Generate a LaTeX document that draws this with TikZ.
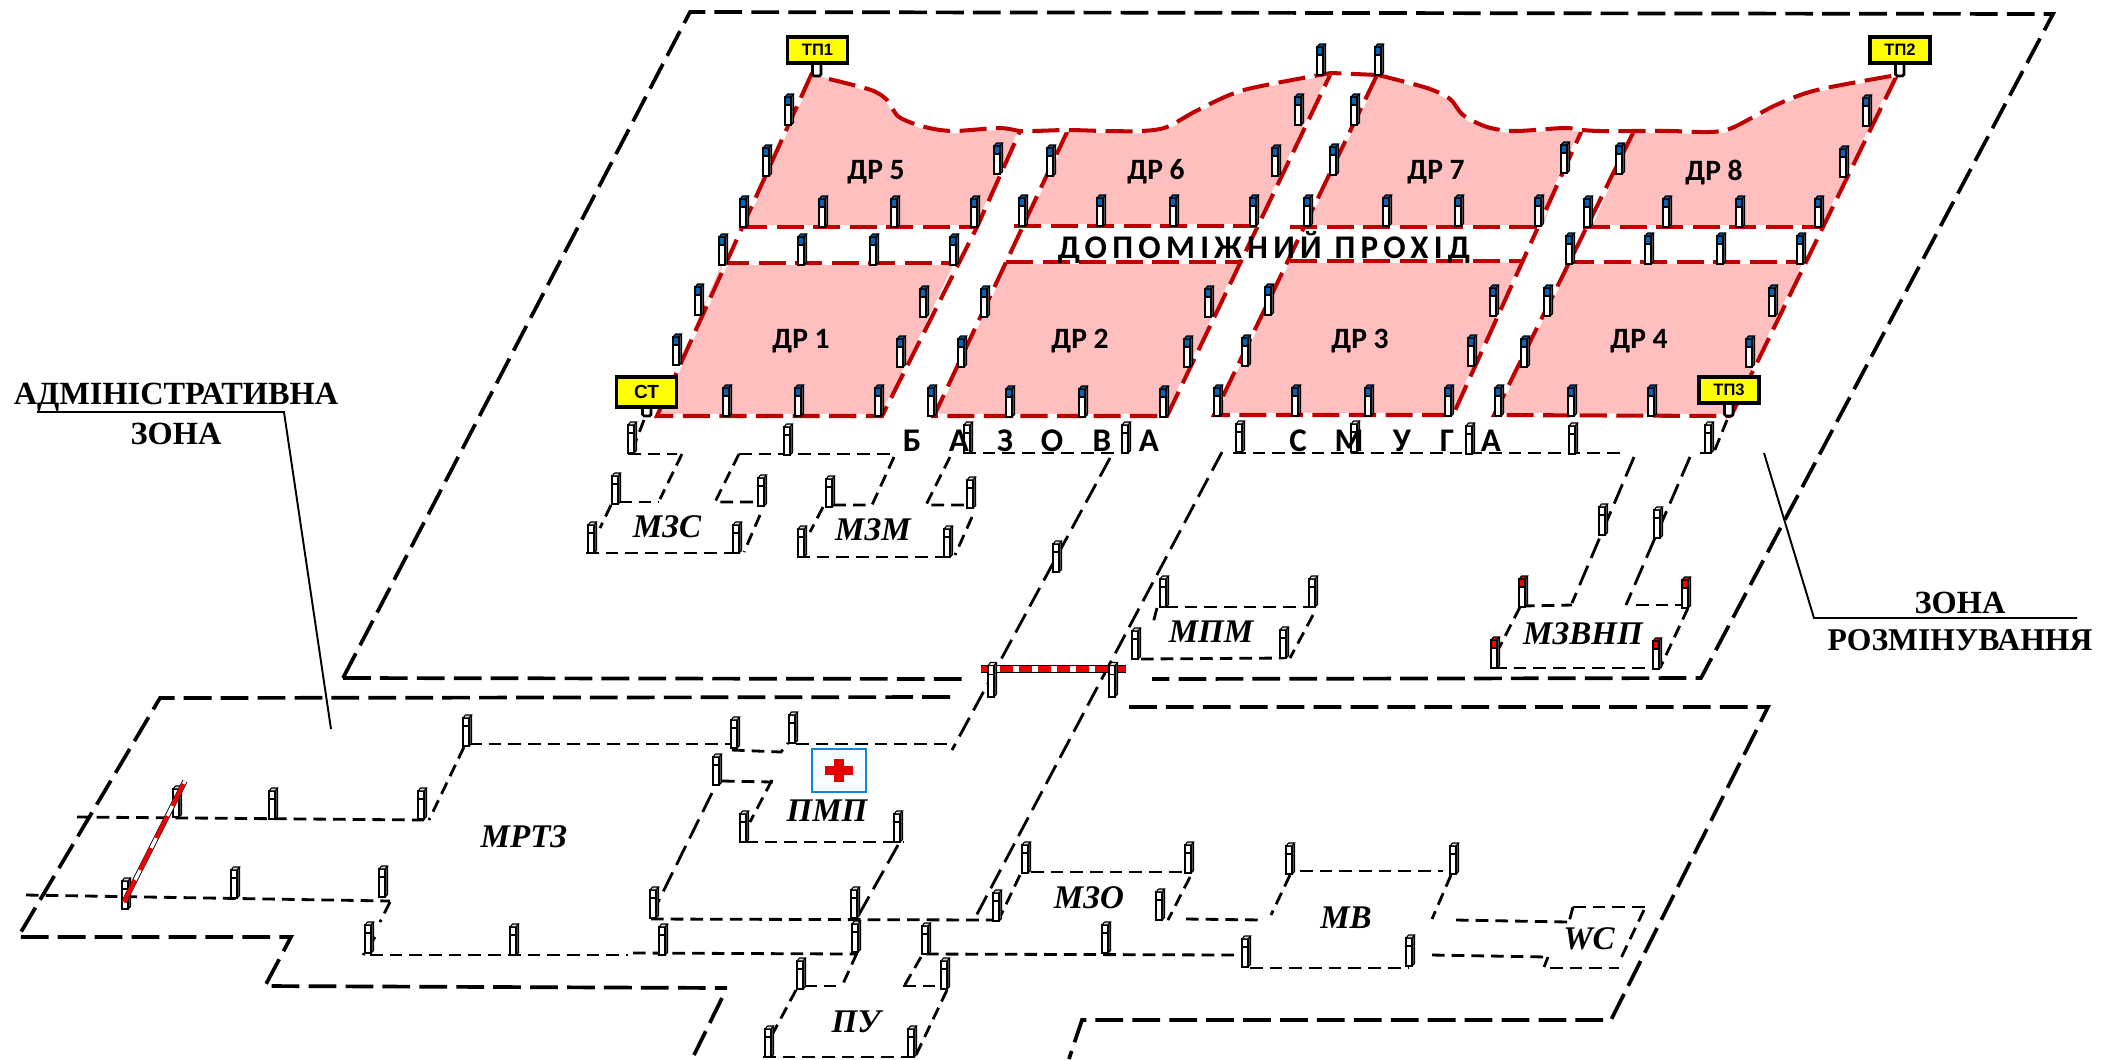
\documentclass[tikz,border=0pt]{standalone}
\usepackage{fontspec}
\usepackage{tikz}
\setmainfont{Liberation Serif}
\newfontfamily\kalibri{Carlito}
\newfontfamily\arial{Liberation Sans}
\definecolor{rozhevyi}{HTML}{FFBFBF}
\definecolor{chervonyi}{HTML}{C00000}
\definecolor{sinii}{HTML}{0066BB}
\definecolor{shlagred}{HTML}{EE0000}
\definecolor{zhovtyi}{HTML}{FFFF00}

\begin{document}
\begin{tikzpicture}[
    x=0.01cm, y=-0.01cm,
    outer/.style={line width=1.05pt, dash pattern=on 7.9pt off 2.6pt},
    redline/.style={draw=chervonyi, line width=1.15pt, dash pattern=on 7.7pt off 2.7pt,
                    preaction={draw=white, line width=1.15pt, solid}},
    thinline/.style={line width=0.8pt, dash pattern=on 3.6pt off 2pt},
    road/.style={line width=0.8pt, dash pattern=on 6pt off 2.4pt},
    leader/.style={line width=0.55pt},
    drfill/.style={fill=rozhevyi},
    drlabel/.style={font=\kalibri\fontsize{8.4}{10}\selectfont\bfseries},
    letter/.style={font=\kalibri\fontsize{9.4}{11}\selectfont\bfseries, inner sep=0pt},
    zonelabel/.style={font=\fontsize{9.2}{11}\selectfont\bfseries, inner sep=0pt},
    mlabel/.style={font=\fontsize{9.4}{11}\selectfont\bfseries\itshape, inner sep=0pt},
    tptag/.style={draw, line width=1pt, fill=zhovtyi, inner sep=0pt,
                  minimum width=17pt, minimum height=7.4pt,
                  font=\arial\fontsize{4.7}{5}\selectfont\bfseries},
    tpost/.style={draw, line width=0.8pt, fill=white, rounded corners=0.5pt},
    pics/post/.style={code={
        \fill[gray!70!black] (3,0) -- (5.5,-2.5) -- (5.5,-31) -- (3,-28) -- cycle;
        \filldraw[line width=0.3pt, fill=white] (-3,0) rectangle (3,-28);
        \filldraw[line width=0.3pt, fill=#1] (-3,-20) rectangle (3,-28);
        \filldraw[line width=0.3pt, fill=#1!85!black] (-3,-28) -- (-0.5,-31) -- (5.5,-31) -- (3,-28) -- cycle;
        \draw[line width=0.3pt] (3,0) -- (5.5,-2.5) -- (5.5,-31);
    }},
]
\useasboundingbox (0,0) rectangle (2111,1059);

% --- demining sectors ---
\fill[drfill] (722,263) -- (954,263) -- (882,416) -- (657,416) -- cycle;
\fill[drfill] (1006,262) -- (1240,262) -- (1167,416) -- (934,416) -- cycle;
\fill[drfill] (1290,261) -- (1524,261) -- (1453,415) -- (1214,415) -- cycle;
\fill[drfill] (1567,262) -- (1803,262) -- (1731,416) -- (1494,415) -- cycle;
\fill[drfill] (740,227) -- (812,73) -- plot[smooth, tension=0.5] coordinates {(829,79) (871,90) (887,100) (899,117) (925,127) (953,131) (999,128) (1020,131)} -- (977,227) -- cycle;
\fill[drfill] (1025,226) -- (1068,130) -- plot[smooth, tension=0.5] coordinates {(1105,131) (1142,131) (1167,127) (1198,110) (1244,90) (1331,73)} -- (1256,226) -- cycle;
\fill[drfill] (1303,227) -- (1377,75) -- plot[smooth, tension=0.5] coordinates {(1427,88) (1450,99) (1463,115) (1487,127) (1515,131) (1564,128) (1582,130)} -- (1542,227) -- cycle;
\fill[drfill] (1592,227) -- (1634,131) -- plot[smooth, tension=0.5] coordinates {(1670,131) (1709,132) (1732,128) (1776,105) (1817,90) (1897,75)} -- (1823,227) -- cycle;

% sector borders
\draw[redline] (812,73) -- (657,416) -- (882,416) -- (977,227) -- (1020,131);
\draw[redline] (740,227) -- (977,227);
\draw[redline] (722,263) -- (954,263);
\draw[redline] (1068,130) -- (934,416) -- (1167,416) -- (1331,73);
\draw[redline] (1014,226) -- (1256,226);
\draw[redline] (1006,262) -- (1240,262);
\draw[redline] (1377,75) -- (1214,415) -- (1453,415) -- (1582,130);
\draw[redline] (1290,227) -- (1542,227);
\draw[redline] (1290,261) -- (1524,261);
\draw[redline] (1634,131) -- (1494,415) -- (1731,416);
\draw[redline] (1583,227) -- (1823,227);
\draw[redline] (1567,262) -- (1803,262);
\draw[redline] (1897,75) -- (1731,416);
\draw[redline] plot[smooth, tension=0.5] coordinates {(829,79) (871,90) (887,100) (899,117) (925,127) (953,131) (999,128) (1020,131) (1034,131) (1068,130) (1105,131) (1142,131) (1167,127) (1198,110) (1244,90) (1331,73)} -- (1378,75);
\draw[redline] plot[smooth, tension=0.5] coordinates {(1378,75) (1427,88) (1450,99) (1463,115) (1487,127) (1515,131) (1564,128) (1582,130) (1600,131) (1634,131) (1670,131) (1709,132) (1732,128) (1776,105) (1817,90) (1897,75)};

% --- outer zones ---
\draw[outer] (343,678) -- (690,12) -- (2053,14) -- (1701,678) -- (1152,679);
\draw[outer] (343,678) -- (963,679);
\draw[outer] (950,697) -- (160,698) -- (18,937) -- (291,937) -- (265,986) -- (727,988);
\draw[outer] (722,998) -- (694,1055);
\draw[outer] (1129,707) -- (1768,707) -- (1611,1020) -- (1082,1020) -- (1069,1059);

% --- roads ---
\draw[road] (1110,458) -- (952,750);
\draw[road] (1222,452) -- (975,918);
\draw[road] (1634,457) -- (1572,603);
\draw[road] (1690,457) -- (1626,605);
\draw[thinline] (1727,420) -- (1714,452);
\draw[thinline] (644,420) -- (635,443);

% --- upper sites ---
\draw[thinline] (1233,453) -- (1626,453);
\draw[thinline] (963,453) -- (1126,453);
\draw[thinline] (1700,453) -- (1711,453);
\draw[thinline] (628,454) -- (677,454);
\draw[thinline] (682,454) -- (660,499);
\draw[thinline] (619,502) -- (659,502);
\draw[thinline] (739,454) -- (894,454);
\draw[thinline] (739,454) -- (715,502) -- (754,502);
\draw[thinline] (611,505) -- (600,528);
\draw[thinline] (586,553) -- (736,553);
\draw[thinline] (760,515) -- (744,552);
\draw[thinline] (894,457) -- (872,505) -- (828,505);
\draw[thinline] (950,457) -- (926,505) -- (976,505);
\draw[thinline] (823,507) -- (810,532);
\draw[thinline] (797,557) -- (950,557);
\draw[thinline] (972,517) -- (955,555);
\draw[thinline] (1165,607) -- (1315,607);
\draw[thinline] (1157,608) -- (1152,627);
\draw[thinline] (1141,659) -- (1284,658);
\draw[thinline] (1313,615) -- (1290,658);
\draw[thinline] (1522,606) -- (1572,605);
\draw[thinline] (1520,607) -- (1499,648);
\draw[thinline] (1494,668) -- (1657,668);
\draw[thinline] (1688,608) -- (1660,668);
\draw[thinline] (1636,605) -- (1683,605);

% --- lower sites ---
\draw[thinline] (77,817) -- (424,820);
\draw[thinline] (26,895) -- (390,901);
\draw[thinline] (464,747) -- (429,820);
\draw[thinline] (469,744) -- (730,744);
\draw[thinline] (732,750) -- (781,752) -- (788,743);
\draw[thinline] (796,744) -- (952,744);
\draw[thinline] (390,902) -- (380,922);
\draw[thinline] (375,937) -- (363,955);
\draw[thinline] (370,955) -- (628,955);
\draw[thinline] (633,953) -- (857,954);
\draw[road] (712,793) -- (658,902);
\draw[thinline] (651,919) -- (992,920);
\draw[thinline] (722,781) -- (773,782);
\draw[thinline] (772,780) -- (750,822);
\draw[thinline] (745,842) -- (903,842);
\draw[road] (898,845) -- (857,918);
\draw[thinline] (857,953) -- (842,986);
\draw[thinline] (804,986) -- (842,986);
\draw[thinline] (796,990) -- (773,1033);
\draw[thinline] (763,1057) -- (913,1057);
\draw[thinline] (947,990) -- (916,1055);
\draw[thinline] (903,986) -- (941,986);
\draw[thinline] (921,957) -- (903,988);
\draw[thinline] (926,954) -- (1240,955);
\draw[thinline] (1031,872) -- (1189,872);
\draw[thinline] (1020,875) -- (1000,917);
\draw[thinline] (1190,877) -- (1168,920);
\draw[thinline] (1186,919) -- (1263,920);
\draw[thinline] (1300,871) -- (1443,871);
\draw[thinline] (1290,875) -- (1271,915);
\draw[thinline] (1451,875) -- (1432,919);
\draw[thinline] (1456,920) -- (1569,922);
\draw[thinline] (1250,968) -- (1409,968);
\draw[thinline] (1432,955) -- (1548,957);
\draw[thinline] (1573,907) -- (1648,907);
\draw[thinline] (1573,907) -- (1569,922);
\draw[thinline] (1644,910) -- (1621,958);
\draw[thinline] (1550,968) -- (1619,968);
\draw[thinline] (1548,957) -- (1544,967);

% --- leaders ---
\draw[leader] (37,412) -- (284,412) -- (331,729);
\draw[leader] (1764,453) -- (1814,618) -- (2077,618);

% --- posts ---
\foreach \x/\y in {788/125, 766/176, 743/227, 822/227, 894/227, 974/227, 722/265, 801/265, 873/265,
    953/265, 698/315, 676/365, 726/416, 798/416, 878/416, 923/317, 900/367, 997/174, 1050/176,
    1022/226, 1100/226, 1173/226, 1253/226, 1298/125, 1275/176, 1320/75, 1354/125, 1333/175, 1307/226,
    984/317, 961/367, 931/416, 1009/417, 1082/417, 1163/417, 1208/317, 1187/367, 1268/315, 1245/366,
    1217/416, 1295/416, 1378/75, 1386/226, 1458/226, 1538/226, 1564/173, 1619/174, 1587/227, 1666/227,
    1739/227, 1818/227, 1843/177, 1866/126, 1569/264, 1648/264, 1720/264, 1800/264, 1772/316, 1749/367,
    1493/316, 1471/366, 1547/316, 1524/367, 1368/416, 1448/416, 1498/416, 1571/416, 1651/416}
    \pic at (\x,\y) {post=sinii};

\foreach \x/\y in {631/453, 787/455, 967/453, 1125/453, 1239/452, 1354/452, 615/504, 761/506, 829/507,
    970/508, 591/553, 736/553, 801/557, 947/557, 1056/572, 1163/607, 1312/607, 1135/659, 1283/658,
    1469/454, 1572/454, 1708/453, 1602/535, 1657/538, 466/746, 734/748, 792/743, 716/785, 743/842,
    897/842, 653/918, 854/918, 996/921, 1025/873, 1188/873, 1159/920, 1289/874, 1453/874, 1105/953,
    925/954, 1245/967, 1409/966, 662/955, 855/952, 800/989, 944/989, 768/1057, 911/1057, 421/819,
    272/819, 176/817, 125/909, 234/898, 382/897, 368/953, 513/955}
    \pic at (\x,\y) {post=white};

\foreach \x/\y in {1522/607, 1685/608, 1494/668, 1656/669}
    \pic at (\x,\y) {post=red};

% --- barriers ---
\draw[line width=2.2pt] (981,669) -- (1126,669);
\draw[white, line width=1.6pt] (981,669) -- (1126,669);
\draw[shlagred, line width=1.6pt, dash pattern=on 3.8pt off 1.6pt] (981,669) -- (1126,669);
\draw[line width=1.5pt] (124,902) -- (185,781);
\draw[white, line width=1pt] (124,902) -- (185,781);
\draw[shlagred, line width=1.2pt, dash pattern=on 7pt off 3.2pt] (124,902) -- (185,781);
\pic[yscale=1.12] at (991,697) {post=white};
\pic[yscale=1.12] at (1112,697) {post=white};

% --- tags ---
\draw[tpost] (812.5,60) rectangle (821,76);
\draw[tpost] (1895.5,60) rectangle (1904,76);
\draw[tpost] (642.5,404) rectangle (651,416);
\draw[tpost] (1724.5,400) rectangle (1733,416);
\node[tptag] (tp1) at (817.5,50) {ТП1};
\node[tptag] (tp2) at (1900,50) {ТП2};
\node[tptag, minimum height=8.5pt, font=\arial\fontsize{5.4}{6}\selectfont\bfseries] (st) at (646.5,392) {СТ};
\node[tptag, minimum height=7.4pt] (tp3) at (1729,390) {ТП3};

% --- first aid ---
\draw[cyan!70!blue, line width=0.5pt, fill=cyan!3] (812,749) rectangle (866,792);
\fill[red!90!black] (834,759) rectangle (844,782);
\fill[red!90!black] (825,766) rectangle (853,775);

% --- labels ---
\foreach \n/\x/\y in {1/801/341, 2/1080/341, 3/1360/341, 4/1639/341, 5/876/172, 6/1156/172, 7/1436/172, 8/1714/173}
    \node[drlabel] (dr\n) at (\x,\y) {ДР \n};

\node[letter] (prohid) at (1264,248) {\addfontfeature{LetterSpace=16}ДОПОМІЖНИЙ ПРОХІД};

\foreach \i/\x/\b in {1/912/Б, 2/959/А, 3/1005/З, 4/1052/О, 5/1102/В, 6/1149/А}
    \node[letter] (baz\i) at (\x,441) {\b};
\foreach \i/\x/\b in {1/1298/С, 2/1349/М, 3/1402/У, 4/1447/Г, 5/1491/А}
    \node[letter] (smu\i) at (\x,441) {\b};

\node[zonelabel] (adm1) at (176,397) {АДМІНІСТРАТИВНА};
\node[zonelabel] (adm2) at (176,434) {ЗОНА};
\node[zonelabel] (roz1) at (1960,603) {ЗОНА};
\node[zonelabel, font=\fontsize{9}{11}\selectfont\bfseries] (roz2) at (1960,640) {РОЗМІНУВАННЯ};

\node[mlabel] (mzs) at (667,527) {МЗС};
\node[mlabel] (mzm) at (873,530) {МЗМ};
\node[mlabel] (mpm) at (1211,632) {МПМ};
\node[mlabel] (mzvnp) at (1583,634) {МЗВНП};
\node[mlabel] (mrtz) at (524,837) {МРТЗ};
\node[mlabel] (pmp) at (827,811) {ПМП};
\node[mlabel] (mzo) at (1089,898) {МЗО};
\node[mlabel] (mv) at (1346,918) {МВ};
\node[mlabel] (wc) at (1589,939) {WC};
\node[mlabel] (pu) at (856,1022) {ПУ};

\end{tikzpicture}
\end{document}
